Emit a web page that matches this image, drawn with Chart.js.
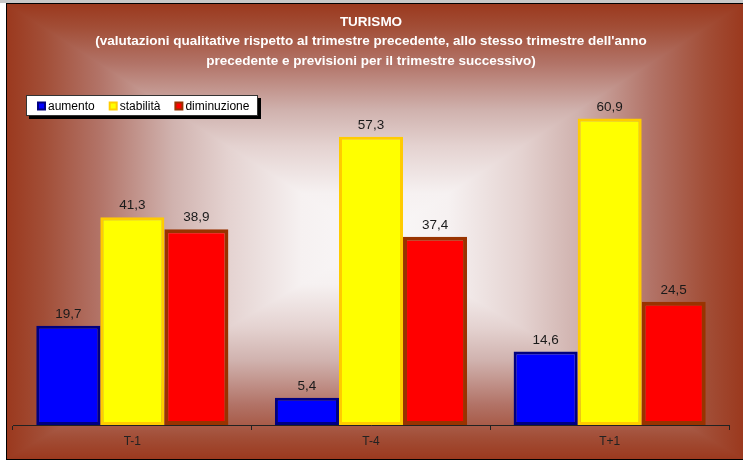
<!DOCTYPE html>
<html>
<head>
<meta charset="utf-8">
<script src="https://cdn.jsdelivr.net/npm/chart.js@4/dist/chart.umd.min.js"></script>
<style>
  body { margin: 0; background: #fff; }
  .strip { position: absolute; left: 0; top: 0; width: 743px; height: 3px; background: #c8c8c8; }
  .frame { position: absolute; left: 6px; top: 3px; width: 736px; height: 455px;
           border-left: 1px solid #000; border-top: 1px solid #000; border-bottom: 1px solid #000; }
</style>
</head>
<body>
<div class="strip"></div>
<div class="frame"><canvas id="turismo"></canvas></div>
<script>
const categories = ["T-1", "T-4", "T+1"];
const seriesNames = ["aumento", "stabilità", "diminuzione"];
const aumento = [19.7, 5.4, 14.6];
const stabilita = [41.3, 57.3, 60.9];
const diminuzione = [38.9, 37.4, 24.5];

const fills = ["#0000ff", "#ffff00", "#ff0000"];
const borders = ["#000080", "#ffcc00", "#993300"];
const borderWidths = [3, 3, 4];
const FONT = '"Liberation Sans", Arial, sans-serif';

// Rectangular "from centre" fill: light in the middle, brick red at every edge
const gradStops = [
  [0, [250, 248, 249]],
  [0.2, [246, 241, 241]],
  [0.4, [228, 210, 208]],
  [0.55, [208, 178, 174]],
  [0.75, [178, 115, 103]],
  [0.9, [162, 78, 55]],
  [1, [155, 57, 30]]
];
const rgb = c => `rgb(${c[0]},${c[1]},${c[2]})`;

const backdrop = {
  id: "backdrop",
  beforeDraw(chart) {
    const { ctx, width: w, height: h } = chart;
    const cx = w * 0.5, cy = h * 0.52;
    ctx.save();
    // top / bottom halves
    const gv = ctx.createLinearGradient(0, 0, 0, h);
    gradStops.slice().reverse().forEach(([t, c]) => gv.addColorStop((cy - t * cy) / h, rgb(c)));
    gradStops.forEach(([t, c]) => gv.addColorStop((cy + t * (h - cy)) / h, rgb(c)));
    ctx.fillStyle = gv;
    ctx.fillRect(0, 0, w, h);
    // left / right wedges
    const gh = ctx.createLinearGradient(0, 0, w, 0);
    gradStops.slice().reverse().forEach(([t, c]) => gh.addColorStop((cx - t * cx) / w, rgb(c)));
    gradStops.forEach(([t, c]) => gh.addColorStop((cx + t * (w - cx)) / w, rgb(c)));
    ctx.beginPath();
    ctx.moveTo(0, 0); ctx.lineTo(cx, cy); ctx.lineTo(0, h); ctx.closePath();
    ctx.moveTo(w, 0); ctx.lineTo(cx, cy); ctx.lineTo(w, h); ctx.closePath();
    ctx.fillStyle = gh;
    ctx.fill();
    ctx.restore();
  }
};

const valueLabels = {
  id: "valueLabels",
  afterDatasetsDraw(chart) {
    const ctx = chart.ctx;
    ctx.save();
    ctx.font = "13.5px " + FONT;
    ctx.fillStyle = "#1a1a1a";
    ctx.textAlign = "center";
    ctx.textBaseline = "alphabetic";
    chart.data.datasets.forEach((ds, i) => {
      chart.getDatasetMeta(i).data.forEach((bar, j) => {
        ctx.fillText(ds.data[j].toFixed(1).replace(".", ","), bar.x, bar.y - 8);
      });
    });
    ctx.restore();
  }
};

// boxed legend with drop shadow, top left of the plot
const boxLegend = {
  id: "boxLegend",
  afterDraw(chart) {
    const ctx = chart.ctx;
    const x0 = 19, y0 = 91, bw = 232, bh = 21;
    ctx.save();
    ctx.fillStyle = "#000";
    ctx.fillRect(x0 + 3, y0 + 3, bw, bh);
    ctx.fillStyle = "#fff";
    ctx.fillRect(x0, y0, bw, bh);
    ctx.strokeStyle = "#333";
    ctx.lineWidth = 1;
    ctx.strokeRect(x0 + 0.5, y0 + 0.5, bw - 1, bh - 1);
    ctx.font = "12px " + FONT;
    ctx.textBaseline = "middle";
    ctx.textAlign = "left";
    let x = x0 + 11;
    const ym = y0 + bh / 2 + 1;
    chart.data.datasets.forEach(ds => {
      ctx.fillStyle = ds.borderColor;
      ctx.fillRect(x, ym - 5, 9, 9);
      ctx.fillStyle = ds.backgroundColor;
      ctx.fillRect(x + 2, ym - 3, 5, 5);
      ctx.fillStyle = "#000";
      ctx.fillText(ds.label, x + 11, ym);
      x += 11 + ctx.measureText(ds.label).width + 14;
    });
    ctx.restore();
  }
};

const seriesData = [aumento, stabilita, diminuzione];

new Chart(document.getElementById("turismo"), {
  type: "bar",
  data: {
    labels: categories,
    datasets: seriesNames.map((name, i) => ({
      label: name,
      data: seriesData[i],
      backgroundColor: fills[i],
      borderColor: borders[i],
      borderWidth: borderWidths[i],
      borderSkipped: false,
      barPercentage: 1,
      categoryPercentage: 0.805
    }))
  },
  options: {
    responsive: true,
    maintainAspectRatio: false,
    animation: false,
    layout: { padding: { left: 6, right: 14, top: 0, bottom: 0 } },
    plugins: {
      legend: { display: false },
      tooltip: { enabled: false },
      title: {
        display: true,
        text: [
          "TURISMO",
          "(valutazioni qualitative rispetto al trimestre precedente, allo stesso trimestre dell'anno",
          "precedente e previsioni per il trimestre successivo)"
        ],
        color: "#ffffff",
        font: { family: FONT, size: 13.5, weight: "bold", lineHeight: 1.45 },
        padding: { top: 8, bottom: 2 }
      }
    },
    scales: {
      x: {
        afterFit(scale) { scale.height = 34; },
        grid: { offset: true, drawOnChartArea: false, drawTicks: true, tickLength: 5, color: "#222" },
        border: { display: true, color: "#222", width: 1 },
        ticks: { color: "#222", padding: 4, font: { family: FONT, size: 12 } }
      },
      y: {
        display: false,
        min: 0,
        max: 70
      }
    }
  },
  plugins: [backdrop, valueLabels, boxLegend]
});
</script>
</body>
</html>
